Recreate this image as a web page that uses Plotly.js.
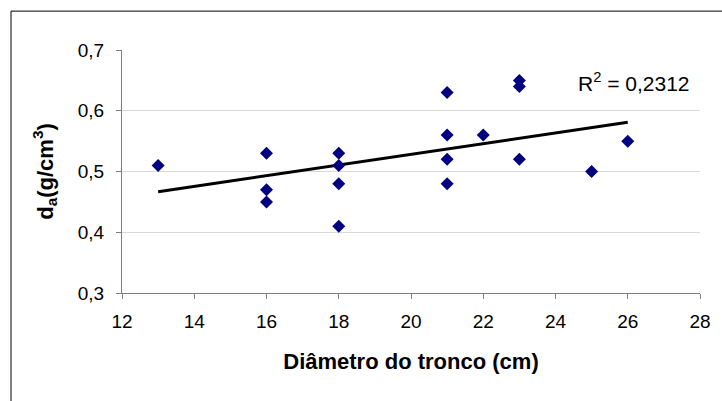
<!DOCTYPE html>
<html>
<head>
<meta charset="utf-8">
<script src="https://cdn.plot.ly/plotly-3.0.1.min.js"></script>
<style>
  html, body { margin: 0; padding: 0; background: #ffffff; }
  #chart { width: 722px; height: 401px; }
</style>
</head>
<body>
<div id="chart"></div>
<script>
// Trunk diameter (cm) and wood density (g/cm3) of the sampled trees
const diameter = [13, 16, 16, 16, 18, 18, 18, 18, 21, 21, 21, 21, 22, 23, 23, 23, 25, 26];
const density  = [0.51, 0.53, 0.47, 0.45, 0.53, 0.51, 0.48, 0.41, 0.63, 0.56, 0.52, 0.48, 0.56, 0.65, 0.64, 0.52, 0.50, 0.55];

const xTicks = [12, 14, 16, 18, 20, 22, 24, 26, 28];
const yTicks = [0.3, 0.4, 0.5, 0.6, 0.7];
const rSquaredLabel = 'R<sup>2</sup> = 0,2312';

// Least-squares linear trend over the observed diameter span
function linearFit(xs, ys) {
  const n = xs.length;
  const mx = xs.reduce((a, b) => a + b, 0) / n;
  const my = ys.reduce((a, b) => a + b, 0) / n;
  let sxy = 0, sxx = 0;
  for (let i = 0; i < n; i++) {
    sxy += (xs[i] - mx) * (ys[i] - my);
    sxx += (xs[i] - mx) * (xs[i] - mx);
  }
  const slope = sxy / sxx;
  return { slope: slope, intercept: my - slope * mx };
}
const fit = linearFit(diameter, density);
const trendX = [Math.min(...diameter), Math.max(...diameter)];
const trendY = trendX.map(x => fit.intercept + fit.slope * x);

const font = 'Liberation Sans, Arial, sans-serif';

const traces = [
  {
    x: trendX, y: trendY, type: 'scatter', mode: 'lines',
    line: { color: '#000000', width: 3 },
    hoverinfo: 'skip'
  },
  {
    x: diameter, y: density, type: 'scatter', mode: 'markers',
    marker: { symbol: 'diamond', size: 10, color: '#000080', line: { width: 0 } }
  }
];

const layout = {
  width: 722, height: 401,
  margin: { l: 122, r: 22, t: 50, b: 108 },
  paper_bgcolor: '#ffffff', plot_bgcolor: '#ffffff',
  showlegend: false,
  separators: ',.',
  font: { family: font, color: '#000000' },
  xaxis: {
    range: [12, 28], tickvals: xTicks, ticktext: xTicks.map(String),
    showgrid: false, zeroline: false,
    showline: true, linecolor: '#808080', linewidth: 1,
    ticks: 'outside', ticklen: 5, tickcolor: '#808080',
    tickfont: { family: font, size: 19, color: '#000000' },
    ticklabelstandoff: 6,
    title: { text: '<b>Diâmetro do tronco (cm)</b>', font: { family: font, size: 22, color: '#000000' }, standoff: 22 }
  },
  yaxis: {
    range: [0.3, 0.7], tickvals: yTicks, ticktext: yTicks.map(v => v.toFixed(1).replace('.', ',')),
    showgrid: true, gridcolor: '#d9d9d9', gridwidth: 1, zeroline: false,
    showline: true, linecolor: '#808080', linewidth: 1,
    ticks: 'outside', ticklen: 5, tickcolor: '#808080',
    tickfont: { family: font, size: 19, color: '#000000' },
    ticklabelstandoff: 8,
    title: { text: '<b>d<sub>a</sub>(g/cm<sup>3</sup>)</b>', font: { family: font, size: 22, color: '#000000' }, standoff: 18 }
  },
  shapes: [
    {
      type: 'rect', xref: 'paper', yref: 'paper',
      x0: -0.192, x1: 2, y0: -2, y1: 1.16,
      line: { color: '#000000', width: 1 }, fillcolor: 'rgba(0,0,0,0)', layer: 'below'
    }
  ],
  annotations: [
    {
      text: rSquaredLabel, xref: 'paper', yref: 'paper',
      x: 0.986, y: 0.87, xanchor: 'right', yanchor: 'middle',
      showarrow: false, font: { family: font, size: 21, color: '#000000' }
    }
  ]
};

Plotly.newPlot('chart', traces, layout, { staticPlot: true, displayModeBar: false });
</script>
</body>
</html>
